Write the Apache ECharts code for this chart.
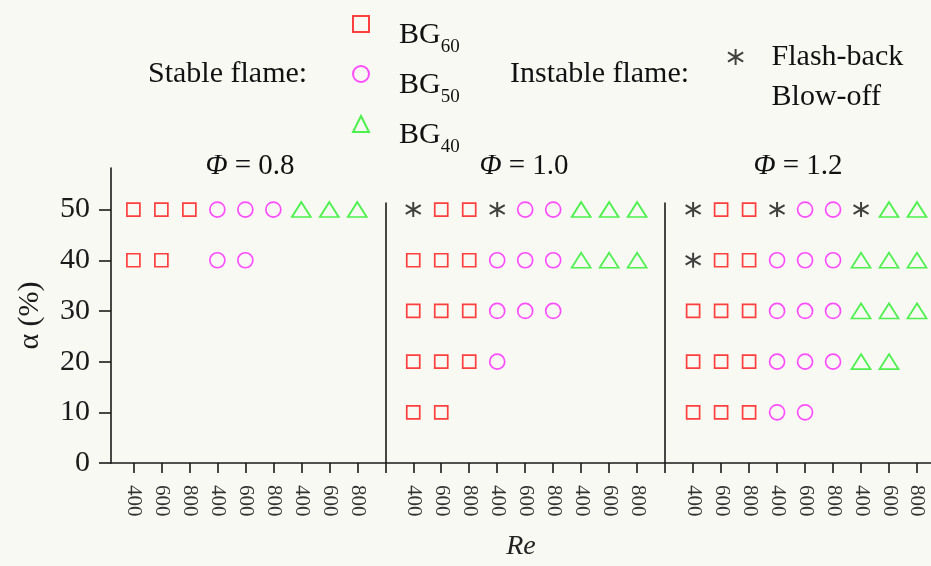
<!DOCTYPE html>
<html>
<head>
<meta charset="utf-8">
<script src="https://cdn.jsdelivr.net/npm/echarts@6/dist/echarts.min.js"></script>
<style>html,body{margin:0;padding:0;background:#f9f9f4;}#c{width:931px;height:566px;}</style>
</head>
<body>
<div id="c"></div>
<script>
// ---- data (x = slot index: 0-8 Φ=0.8, 10-18 Φ=1.0, 20-28 Φ=1.2; each panel BG60|BG50|BG40 × Re 400/600/800)
const reTicks = ['400', '600', '800'];
const phiLabels = ['0.8', '1.0', '1.2'];
const alphaTicks = [0, 10, 20, 30, 40, 50];
const dividers = [9, 19];
const dividerTop = 51.4;
const bg60 = [[0,50],[1,50],[2,50],[0,40],[1,40],
  [11,50],[12,50],[10,40],[11,40],[12,40],[10,30],[11,30],[12,30],[10,20],[11,20],[12,20],[10,10],[11,10],
  [21,50],[22,50],[21,40],[22,40],[20,30],[21,30],[22,30],[20,20],[21,20],[22,20],[20,10],[21,10],[22,10]];
const bg50 = [[3,50],[4,50],[5,50],[3,40],[4,40],
  [14,50],[15,50],[13,40],[14,40],[15,40],[13,30],[14,30],[15,30],[13,20],
  [24,50],[25,50],[23,40],[24,40],[25,40],[23,30],[24,30],[25,30],[23,20],[24,20],[25,20],[23,10],[24,10]];
const bg40 = [[6,50],[7,50],[8,50],
  [16,50],[17,50],[18,50],[16,40],[17,40],[18,40],
  [27,50],[28,50],[26,40],[27,40],[28,40],[26,30],[27,30],[28,30],[26,20],[27,20]];
const flashBack = [[10,50],[13,50],[20,50],[23,50],[26,50],[20,40]];
const blowOff = [];

const FONT = "'Liberation Serif', 'Times New Roman', serif";
const slotValues = [];
for (let p = 0; p < 3; p++) for (let k = 0; k < 9; k++) slotValues.push(p * 10 + k);
const tickValues = slotValues.concat(dividers).sort((a, b) => a - b);
const asterisk = 'path://M6,0L6,12M0.3,2.5L11.7,9.5M0.3,9.5L11.7,2.5';

const chart = echarts.init(document.getElementById('c'));
const option = {
  backgroundColor: '#f9f9f4',
  animation: false,
  grid: { left: 111, right: 0, top: 168, bottom: 101 },
  legend: [
    {
      data: ['BG60', 'BG50', 'BG40'], orient: 'vertical', left: 352, top: 9, padding: 0,
      itemWidth: 16, itemHeight: 16, itemGap: 2,
      formatter: n => '{b|BG}{s|' + n.slice(2) + '}',
      textStyle: { rich: {
        b: { fontFamily: FONT, fontSize: 30, lineHeight: 30, color: '#111', padding: [11, 0, 0, 25], verticalAlign: 'top' },
        s: { fontFamily: FONT, fontSize: 19, lineHeight: 19, color: '#111', padding: [29, 0, 0, 0], verticalAlign: 'top' }
      } }
    },
    {
      data: ['Flash-back', 'Blow-off'], orient: 'vertical', left: 727, top: 42, padding: 0,
      itemWidth: 16, itemHeight: 16, itemGap: 10,
      formatter: n => '{t|' + n + '}',
      textStyle: { rich: { t: { fontFamily: FONT, fontSize: 30, lineHeight: 30, color: '#111', padding: [0, 0, 0, 23] } } }
    }
  ],
  xAxis: {
    type: 'value', min: -0.8, max: 28.5,
    splitLine: { show: false },
    axisLine: { lineStyle: { color: '#1a1a1a', width: 1.6 } },
    axisTick: { customValues: tickValues, length: 10, inside: false, lineStyle: { color: '#1a1a1a', width: 1.6 } },
    axisLabel: {
      customValues: slotValues, rotate: -90, margin: 22,
      formatter: v => reTicks[(v % 10) % 3],
      fontFamily: FONT, fontSize: 21, color: '#333'
    },
    name: 'Re', nameLocation: 'middle', nameGap: 70,
    nameTextStyle: { fontFamily: FONT, fontSize: 28, fontStyle: 'italic', color: '#222' }
  },
  yAxis: {
    type: 'value', min: 0, max: 58.2,
    splitLine: { show: false },
    axisLine: { show: true, onZero: false, lineStyle: { color: '#1a1a1a', width: 1.6 } },
    axisTick: { show: true, customValues: alphaTicks, length: 12, lineStyle: { color: '#1a1a1a', width: 1.6 } },
    axisLabel: { customValues: alphaTicks, margin: 21, fontFamily: FONT, fontSize: 30, color: '#1a1a1a' },
    name: 'α (%)', nameLocation: 'middle', nameGap: 66, nameRotate: 90,
    nameTextStyle: { fontFamily: FONT, fontSize: 30, color: '#1a1a1a' }
  },
  series: [
    { name: 'BG60', type: 'scatter', data: bg60, symbol: 'rect', symbolSize: 13,
      itemStyle: { color: 'rgba(0,0,0,0)', borderColor: '#ff1010', borderWidth: 1.7 },
      markLine: { silent: true, symbol: 'none', label: { show: false },
        lineStyle: { color: '#1a1a1a', width: 1.6, type: 'solid' },
        data: dividers.map(d => [{ coord: [d, 0] }, { coord: [d, dividerTop] }]) } },
    { name: 'BG50', type: 'scatter', data: bg50, symbol: 'circle', symbolSize: 15,
      itemStyle: { color: 'rgba(0,0,0,0)', borderColor: '#ff22ff', borderWidth: 1.7 } },
    { name: 'BG40', type: 'scatter', data: bg40, symbol: 'triangle', symbolSize: [19, 15],
      itemStyle: { color: 'rgba(0,0,0,0)', borderColor: '#22ee22', borderWidth: 1.7 } },
    { name: 'Flash-back', type: 'scatter', data: flashBack, symbol: asterisk, symbolSize: 15,
      itemStyle: { color: 'rgba(0,0,0,0)', borderColor: '#111', borderWidth: 2 } },
    { name: 'Blow-off', type: 'scatter', data: blowOff, symbol: 'circle', symbolSize: 12,
      itemStyle: { color: 'rgba(0,0,0,0)', borderColor: 'rgba(0,0,0,0)', borderWidth: 0 } }
  ],
  graphic: [
    { type: 'text', x: 148, y: 74, style: { text: 'Stable flame:', font: '30px ' + FONT, fill: '#111', verticalAlign: 'middle' } },
    { type: 'text', x: 510, y: 74, style: { text: 'Instable flame:', font: '30px ' + FONT, fill: '#111', verticalAlign: 'middle' } }
  ].concat(phiLabels.map((p, i) => ({
    type: 'text', x: [250, 524, 798][i], y: 166,
    style: { text: '{i|Φ} = ' + p, font: '29px ' + FONT, fill: '#111', align: 'center', verticalAlign: 'middle',
      rich: { i: { fontStyle: 'italic', fontFamily: FONT, fontSize: 29 } } }
  })))
};
chart.setOption(option);
</script>
</body>
</html>
